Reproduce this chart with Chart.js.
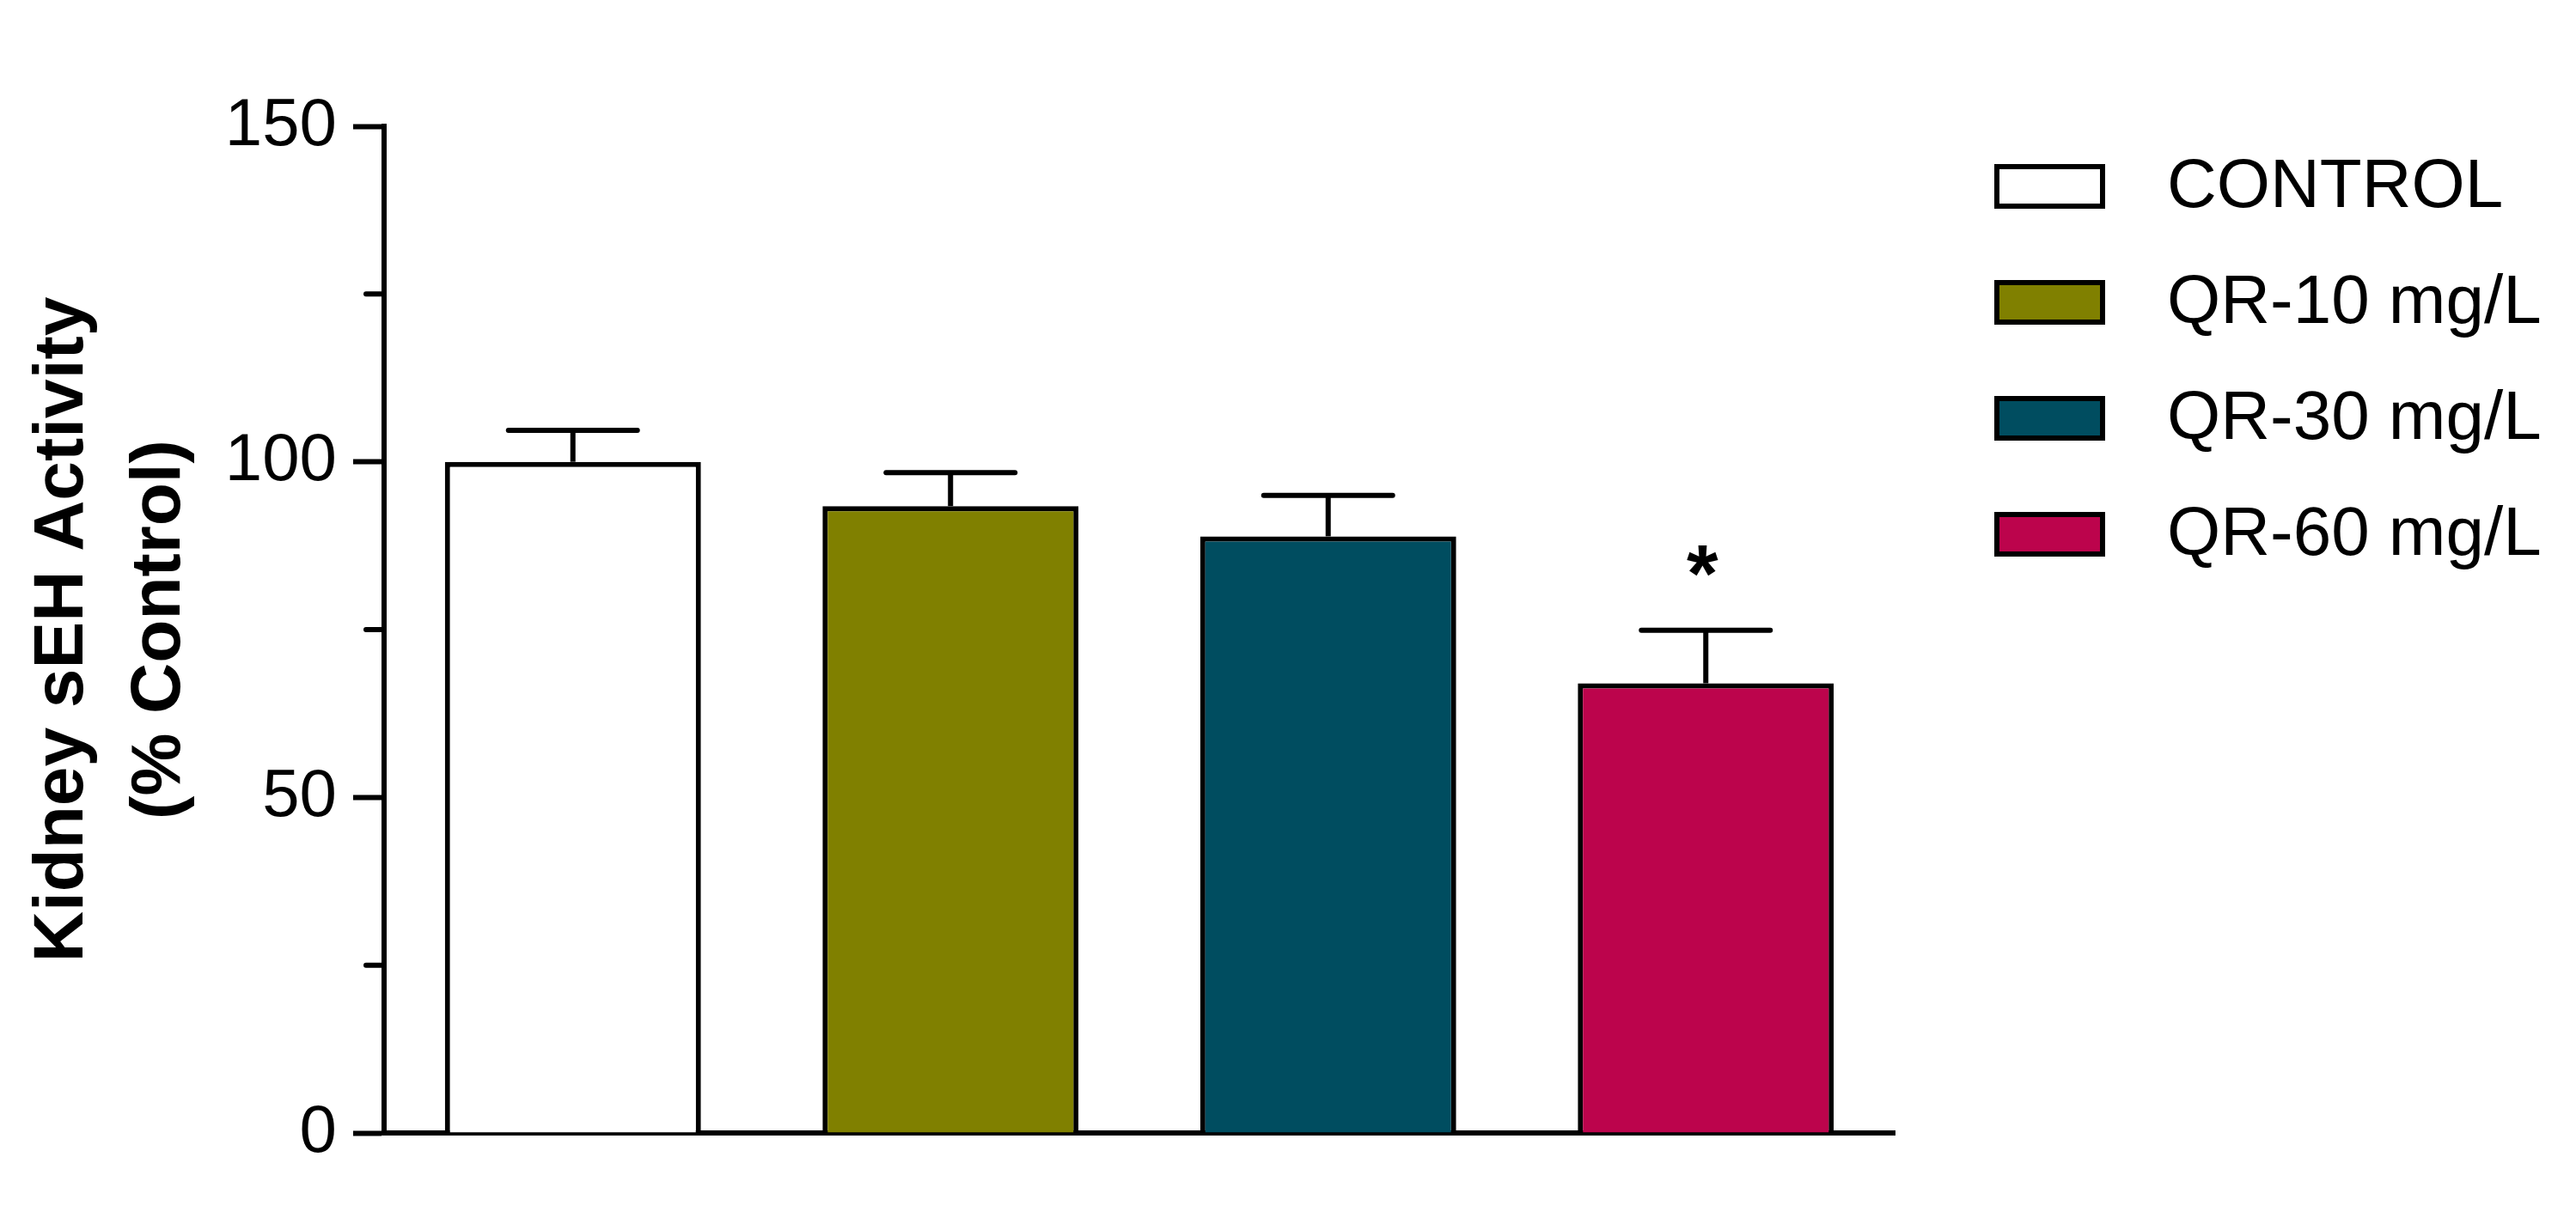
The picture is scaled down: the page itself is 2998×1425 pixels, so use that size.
<!DOCTYPE html>
<html>
<head>
<meta charset="utf-8">
<title>Kidney sEH Activity</title>
<script src="https://cdn.jsdelivr.net/npm/chart.js@4.4.1/dist/chart.umd.min.js"></script>
<style>
    html, body { margin: 0; padding: 0; background: #fff; }
    #sehChart { display: block; }
</style>
</head>
<body>
<canvas id="sehChart" width="2998" height="1425"></canvas>
<script>
// 数据
const groups = ['CONTROL', 'QR-10 mg/L', 'QR-30 mg/L', 'QR-60 mg/L'];
const activity = [100, 93.4, 88.9, 67.0];
const activityErr = [4.7, 5.0, 6.1, 7.9];
const significance = ['', '', '', '*'];
const barColors = ['#FFFFFF', '#808000', '#004D60', '#BC044C'];
const yTickLabels = [0, 50, 100, 150];
const yTitle = ['Kidney sEH Activity', '(% Control)'];

const FONT = '"Liberation Sans", Arial, sans-serif';

// 误差线 + 显著性标记
const errorBarPlugin = {
    id: 'errorBars',
    afterDatasetsDraw(chart) {
        const ctx = chart.ctx;
        const yScale = chart.scales.y;
        const meta = chart.getDatasetMeta(0);
        ctx.save();
        ctx.strokeStyle = '#000';
        ctx.fillStyle = '#000';
        ctx.lineWidth = 6;
        meta.data.forEach((bar, i) => {
            const yBase = yScale.getPixelForValue(activity[i]);
            const yTop = yScale.getPixelForValue(activity[i] + activityErr[i]);
            ctx.lineCap = 'butt';
            ctx.beginPath();
            ctx.moveTo(bar.x, yBase);
            ctx.lineTo(bar.x, yTop);
            ctx.stroke();
            ctx.lineCap = 'round';
            ctx.beginPath();
            ctx.moveTo(bar.x - 75, yTop);
            ctx.lineTo(bar.x + 75, yTop);
            ctx.stroke();
            if (significance[i]) {
                ctx.font = 'bold 94px ' + FONT;
                ctx.textAlign = 'center';
                ctx.textBaseline = 'alphabetic';
                ctx.fillText(significance[i], bar.x - 4, yTop - 34);
            }
        });
        ctx.restore();
    }
};

// 次刻度（25/75/125）比主刻度短
const minorTickPlugin = {
    id: 'minorTicks',
    afterDraw(chart) {
        const ctx = chart.ctx;
        const yScale = chart.scales.y;
        const x = chart.chartArea.left;
        ctx.save();
        ctx.strokeStyle = '#000';
        ctx.lineWidth = 6;
        ctx.lineCap = 'round';
        yScale.ticks.forEach(t => {
            if (yTickLabels.includes(t.value)) return;
            const y = yScale.getPixelForValue(t.value);
            ctx.beginPath();
            ctx.moveTo(x - 21, y);
            ctx.lineTo(x, y);
            ctx.stroke();
        });
        ctx.restore();
    }
};

// 右侧图例
const sideLegendPlugin = {
    id: 'sideLegend',
    afterDraw(chart) {
        const ctx = chart.ctx;
        ctx.save();
        groups.forEach((name, i) => {
            const cy = 217 + i * 135;
            ctx.fillStyle = barColors[i];
            ctx.fillRect(2324, cy - 23, 123, 46);
            ctx.strokeStyle = '#000';
            ctx.lineWidth = 6;
            ctx.strokeRect(2324, cy - 23, 123, 46);
            ctx.fillStyle = '#000';
            ctx.font = '80px ' + FONT;
            ctx.textAlign = 'left';
            ctx.textBaseline = 'middle';
            ctx.fillText(name, 2522, cy + 2);
        });
        ctx.restore();
    }
};

const ctx = document.getElementById('sehChart').getContext('2d');
window.sehChart = new Chart(ctx, {
    type: 'bar',
    data: {
        labels: groups,
        datasets: [{
            label: 'Kidney sEH Activity',
            data: activity,
            backgroundColor: barColors,
            borderColor: '#000',
            borderWidth: 6,
            barPercentage: 0.678,
            categoryPercentage: 1
        }]
    },
    options: {
        responsive: false,
        animation: false,
        layout: { padding: { left: 0, top: 147, right: 793, bottom: 106 } },
        plugins: {
            legend: { display: false },
            tooltip: { enabled: false }
        },
        scales: {
            x: {
                ticks: { display: false },
                grid: { display: false, drawTicks: false },
                border: { display: true, color: '#000', width: 6 }
            },
            y: {
                min: 0,
                max: 150,
                afterFit(scale) { scale.width = 447; },
                ticks: {
                    stepSize: 25,
                    padding: 19,
                    color: '#000',
                    font: { family: FONT, size: 78 },
                    callback: v => yTickLabels.includes(v) ? v : ''
                },
                grid: {
                    drawOnChartArea: false,
                    drawTicks: true,
                    tickLength: 36,
                    tickWidth: 6,
                    tickColor: c => (c.tick && yTickLabels.includes(c.tick.value)) ? '#000' : 'rgba(0,0,0,0)'
                },
                border: { display: true, color: '#000', width: 6 },
                title: {
                    display: true,
                    text: yTitle,
                    color: '#000',
                    font: { family: FONT, size: 82, weight: 'bold', lineHeight: 1.38 },
                    padding: { top: 17, bottom: 0 }
                }
            }
        }
    },
    plugins: [errorBarPlugin, minorTickPlugin, sideLegendPlugin]
});
</script>
</body>
</html>
